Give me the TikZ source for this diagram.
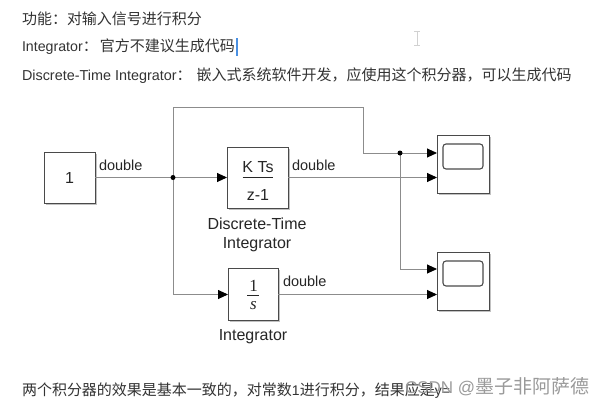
\documentclass[tikz,border=0pt]{standalone}
\usepackage{fontspec}
\setmainfont{Liberation Sans}
\newfontfamily\cjk{Noto Sans CJK SC}
\newfontfamily\serifu{Liberation Serif}
\usetikzlibrary{arrows.meta,calc,shadows}
\definecolor{txtc}{HTML}{333333}
\definecolor{dgc}{HTML}{262626}
\definecolor{wirec}{HTML}{8C8C8C}
\definecolor{blkc}{HTML}{4A4A4A}
\definecolor{wmc}{HTML}{9A9A9A}
\definecolor{curc}{HTML}{4A90E2}
\begin{document}
\begin{tikzpicture}[x=1pt,y=-1pt,
  every node/.style={inner sep=0pt, outer sep=0pt},
  blk/.style={draw=blkc, fill=white, line width=0.9pt,
    drop shadow={shadow xshift=1.5pt, shadow yshift=-1.5pt, fill=black!40, opacity=0.6}},
  wire/.style={draw=wirec, line width=0.9pt},
  arr/.style={-{Triangle[length=10pt,width=9pt,color=black,fill=black]}},
  lbl/.style={font=\fontsize{14.5}{16}\selectfont, text=dgc},
  btxt/.style={font=\fontsize{16}{18}\selectfont, text=dgc},
  hdr/.style={anchor=base west, text=txtc},
  jdot/.style={circle, fill=black, minimum size=5pt},
  disp/.style={draw=blkc, line width=1.1pt, rounded corners=3pt, minimum width=40pt, minimum height=25pt},
]
\useasboundingbox (0,0) rectangle (611,405);
\fill[white] (0,0) rectangle (611,405);

% header text
\node[hdr] (h1) at (22,24.5) {\cjk\fontsize{15}{18}\selectfont 功能：对输入信号进行积分};
\node[hdr] (h2) at (22,51) {\fontsize{14.2}{18}\selectfont Integrator{\cjk\fontsize{15}{18}\selectfont ：\hspace{2pt}官方不建议生成代码}};
\node[hdr] (h3) at (22,80) {\fontsize{14.4}{18}\selectfont Discrete-Time Integrator{\cjk\fontsize{15}{18}\selectfont ：\hspace{5pt}嵌入式系统软件开发，应使用这个积分器，可以生成代码}};
\draw[curc, line width=1.3pt] (237,38) -- (237,56);
\draw[black!18, line width=0.8pt] (417,31) -- (417,45) (414,31) -- (420,31) (414,45) -- (420,45);

% blocks
\node[blk, minimum width=51pt, minimum height=51pt, font=\fontsize{16}{18}\selectfont, text=dgc] (const) at (69.5,177.5) {1};
\node[blk, minimum width=61pt, minimum height=61pt] (dti) at (257.5,177.5) {};
\node[btxt, anchor=base] (dtinum) at (258,172.5) {K Ts};
\node[btxt, anchor=base] (dtiden) at (258,200) {z-1};
\draw[dgc, line width=0.8pt] ($(dti.center)+(-15,0)$) -- ($(dti.center)+(15,0)$);

\node[blk, minimum width=50pt, minimum height=52pt] (integ) at (253,294.5) {};
\node[anchor=base, text=dgc, font=\serifu\fontsize{17}{19}\selectfont] (intnum) at (253.5,291) {1};
\node[anchor=base, text=dgc, font=\serifu\itshape\fontsize{17}{19}\selectfont] (intden) at (253.5,309) {s};
\draw[dgc, line width=0.8pt] ($(integ.center)+(-6,0.5)$) -- ($(integ.center)+(6,0.5)$);

\node[blk, minimum width=52pt, minimum height=58pt] (sc1) at (463,164) {};
\node[disp] (sc1d) at ($(sc1.center)+(0,-7.5)$) {};
\node[blk, minimum width=52pt, minimum height=58pt] (sc2) at (463,281) {};
\node[disp] (sc2d) at ($(sc2.center)+(0,-7.5)$) {};

% points
\coordinate (j1) at (173,177.5);
\coordinate (c1) at (173,107);
\coordinate (c2) at (363,107);
\coordinate (j2) at (400,153);
\coordinate (sc1a) at ($(sc1.west)+(0,-11)$);
\coordinate (sc1b) at ($(sc1.west)+(0,13.5)$);
\coordinate (sc2a) at ($(sc2.west)+(0,-12)$);
\coordinate (sc2b) at ($(sc2.west)+(0,13.5)$);

% wires
\draw[wire] (const.east) -- (j1);
\draw[wire,arr] (j1) -- (dti.west);
\draw[wire,arr] (j1) -- (c1) -- (c2) |- (sc1a);
\draw[wire,arr] (j1) |- (integ.west);
\draw[wire,arr] (dti.east) -- (sc1b);
\draw[wire,arr] (j2) |- (sc2a);
\draw[wire,arr] (integ.east) -- (sc2b);
\node[jdot] (d1) at (j1) {};
\node[jdot] (d2) at (j2) {};

% labels
\node[lbl, anchor=base west] (lb1) at (99,170) {double};
\node[lbl, anchor=base west] (lb2) at (292,170) {double};
\node[lbl, anchor=base west] (lb3) at (283,286) {double};
\node[btxt, anchor=base] (dtil1) at (257,229) {Discrete-Time};
\node[btxt, anchor=base] (dtil2) at (257,248) {Integrator};
\node[btxt, anchor=base] (intl) at (253,340) {Integrator};

% bottom text
\node[hdr] (b1) at (22,395) {\cjk\fontsize{15}{18}\selectfont 两个积分器的效果是基本一致的，对常数{\rmfamily\fontsize{14}{18}\selectfont 1}进行积分，结果应是{\rmfamily\fontsize{14}{18}\selectfont y=}};
\node[anchor=base west, text=wmc] (wm) at (405,393) {\fontsize{17}{20}\selectfont CSDN @{\cjk\fontsize{19}{22}\selectfont 墨子非阿萨德}};
\end{tikzpicture}
\end{document}
